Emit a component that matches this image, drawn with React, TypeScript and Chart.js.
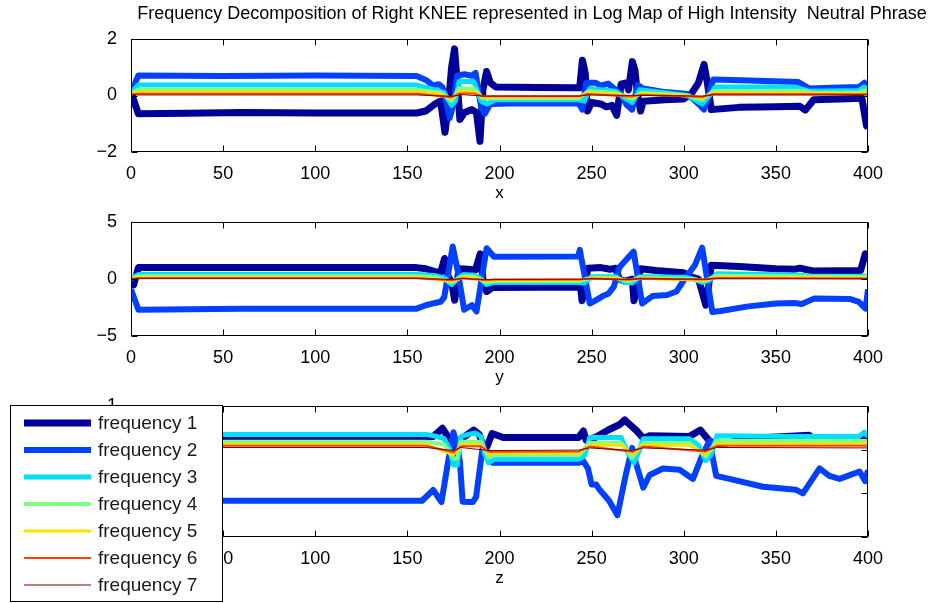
import { useEffect, useRef } from "react";
import { Chart, registerables } from "chart.js";

Chart.register(...registerables);

type Pt = [number, number];

const FONT = '"Liberation Sans", Arial, Helvetica, sans-serif';

const titleText =
  "Frequency Decomposition of Right KNEE represented in Log Map of High Intensity  Neutral Phrase";

const seriesLabels = [
  "frequency 1",
  "frequency 2",
  "frequency 3",
  "frequency 4",
  "frequency 5",
  "frequency 6",
  "frequency 7",
];
const seriesColors = ["#000098", "#0040ff", "#00dfff", "#80ff80", "#ffdf00", "#ff4000", "#800000"];
const seriesWidths = [7, 6, 5, 4, 3, 2, 1];

const xTickValues = [0, 50, 100, 150, 200, 250, 300, 350, 400];
const yTicksX = [-2, 0, 2];
const yTicksY = [-5, 0, 5];
const yTicksZ = [-2, -1, 0, 1];
const axisNames = ["x", "y", "z"];

// ---- x component ----
const xF1: Pt[] = [
  [0, 0.12], [4, -0.65], [30, -0.63], [60, -0.6], [100, -0.62], [155, -0.62], [160, -0.55],
  [165, -0.3], [168, -0.2], [170.4, -1.3], [172, -0.5], [174, 1.0], [175.6, 1.65], [177, 0.5],
  [178.5, -0.85], [181, -0.6], [185, -0.5], [187.5, -0.6], [189.4, -1.62], [191, 0.2], [193, 0.85],
  [195, 0.45], [198, 0.3], [220, 0.28], [243.5, 0.27], [245, 1.25], [246.5, 0.8], [247.8, -0.55],
  [250, -0.25], [255, -0.3], [258, -0.4], [261, -0.35], [263.6, -0.7], [266, 0.4], [268.7, 0.45],
  [270, 0.2], [272.1, 1.2], [273.5, 0.9], [274.8, 0.1], [276.6, -0.55], [278, -0.2], [290, -0.15],
  [300, -0.12], [304, 0.05], [308, 0.45], [311, 1.1], [312.8, 0.45], [315, -0.5], [330, -0.42],
  [350, -0.4], [363, -0.38], [366, -0.52], [370.5, -0.15], [385, -0.12], [396.7, -0.1],
  [399.2, -1.08], [400, -1.12],
];
const xF2: Pt[] = [
  [0, 0.1], [4, 0.71], [50, 0.69], [100, 0.71], [155, 0.69], [160, 0.55], [164, 0.35], [167, 0.4],
  [169, 0.3], [171, -0.2], [173, -0.8], [175, -0.3], [177, 0.7], [181, 0.75], [185, 0.7],
  [187, 0.8], [190, -0.4], [192, -0.65], [195, -0.3], [210, -0.27], [243, -0.28], [245, -0.5],
  [247, 0.45], [252, 0.45], [255, 0.35], [259, 0.42], [263, 0.2], [266, 0.05], [269, -0.33],
  [272, -0.5], [275, 0.37], [278, 0.25], [290, 0.12], [302, 0.05], [308, -0.3], [311, -0.5],
  [314, 0.1], [316, 0.57], [340, 0.52], [362, 0.48], [368, 0.25], [380, 0.27], [395, 0.3],
  [398, 0.45], [400, 0.25],
];
const xF3: Pt[] = [
  [0, 0.1], [4, 0.37], [155, 0.37], [165, 0.2], [170, 0.1], [174, -0.35], [176, -0.2], [178, 0.5],
  [186, 0.5], [190, -0.2], [193, -0.3], [198, -0.15], [243, -0.15], [246, -0.2], [249, 0.25],
  [263, 0.15], [268, -0.1], [272, -0.25], [276, 0.2], [290, 0.1], [302, 0.0], [310, -0.3],
  [314, 0.0], [317, 0.3], [360, 0.3], [368, 0.15], [395, 0.18], [398, 0.3], [400, 0.2],
];
const xF4: Pt[] = [
  [0, 0.08], [4, 0.2], [155, 0.2], [168, 0.1], [174, -0.2], [178, 0.25], [186, 0.25], [191, -0.1],
  [198, -0.1], [243, -0.1], [248, 0.15], [263, 0.1], [272, -0.12], [277, 0.1], [300, 0.02],
  [310, -0.15], [316, 0.15], [365, 0.17], [370, 0.1], [395, 0.1], [398, 0.18], [400, 0.12],
];
const xF5: Pt[] = [
  [0, 0.06], [4, 0.12], [155, 0.12], [168, 0.06], [174, -0.12], [178, 0.14], [186, 0.14],
  [191, -0.06], [243, -0.06], [248, 0.1], [263, 0.06], [272, -0.07], [277, 0.06], [300, 0.01],
  [310, -0.09], [316, 0.1], [400, 0.07],
];
const xF6: Pt[] = [
  [0, 0.04], [4, 0.06], [155, 0.06], [174, -0.06], [178, 0.07], [186, 0.07], [191, -0.03],
  [243, -0.03], [248, 0.05], [272, -0.04], [277, 0.03], [310, -0.05], [316, 0.05], [400, 0.04],
];
const xF7: Pt[] = [
  [0, 0.02], [155, 0.02], [174, -0.03], [180, 0.03], [191, -0.02], [243, -0.02], [248, 0.02],
  [310, -0.02], [316, 0.02], [400, 0.02],
];

// ---- y component ----
const yF1: Pt[] = [
  [0, -0.2], [1.5, -0.5], [4, 1.0], [60, 1.0], [155, 1.0], [160, 0.9], [165, 0.65], [168, 0.55],
  [170.2, 1.8], [172, 0.3], [174, -0.3], [175.7, -1.85], [178, 0.9], [183, 0.85], [187, 0.8],
  [189.5, 2.2], [191, 0.0], [193, -1.1], [196, -0.75], [244, -0.7], [244.8, -1.9], [248, 0.94],
  [255, 1.0], [260, 0.85], [263, 0.95], [265, 0.0], [268, -0.2], [272, 0.0], [273, -1.9],
  [276.5, 0.9], [285, 0.75], [300, 0.55], [304, 0.2], [308, 0.0], [312, -2.3], [315, 1.2],
  [330, 1.1], [350, 0.9], [360, 0.85], [363, 0.95], [370, 0.7], [396, 0.75], [398.5, 2.2],
  [400, 2.0],
];
const yF2: Pt[] = [
  [0, -0.9], [4, -2.7], [60, -2.6], [155, -2.6], [160, -2.3], [165, -2.1], [168, -2.0],
  [170, -1.6], [174.6, 2.85], [177, 1.0], [180.8, -2.7], [185, -2.3], [187.5, -2.85], [193, 2.7],
  [197, 1.95], [242.6, 1.97], [243.6, 2.55], [249, -2.15], [252, -1.9], [256, -1.5], [259, -1.3],
  [262, -0.7], [265, 1.0], [268.8, 1.7], [272.8, 2.4], [277.4, -2.15], [283, -1.5], [291, -1.4],
  [296, -1.1], [300.5, 0.0], [306, 1.2], [310, 2.75], [315.5, -2.9], [320, -2.8], [335, -2.4],
  [350, -2.15], [360, -2.1], [364, -2.2], [371, -1.7], [390, -1.75], [395, -2.0], [398.7, -2.6],
  [400, -0.9],
];
const yF3: Pt[] = [
  [0, 0.05], [4, 0.4], [155, 0.4], [165, 0.3], [170, 0.1], [174, -0.5], [177, 0.0], [180, 0.35],
  [186, 0.35], [190, 0.0], [193, -0.5], [197, -0.3], [243, -0.3], [246, -0.35], [250, 0.2],
  [263, 0.2], [268, -0.3], [272, -0.35], [276, 0.2], [300, 0.15], [305, 0.0], [310, -0.3],
  [314, -0.1], [318, 0.45], [360, 0.35], [370, 0.25], [400, 0.25],
];
const yF4: Pt[] = [
  [0, 0.03], [4, 0.25], [155, 0.25], [165, 0.18], [174, -0.3], [180, 0.22], [186, 0.22],
  [193, -0.3], [197, -0.18], [243, -0.18], [250, 0.12], [263, 0.12], [270, -0.2], [276, 0.12],
  [305, 0.0], [311, -0.18], [318, 0.28], [400, 0.18],
];
const yF5: Pt[] = [
  [0, 0.02], [4, 0.15], [155, 0.15], [174, -0.18], [180, 0.13], [186, 0.13], [193, -0.18],
  [197, -0.1], [243, -0.1], [250, 0.07], [263, 0.07], [270, -0.12], [276, 0.07], [311, -0.1],
  [318, 0.16], [400, 0.1],
];
const yF6: Pt[] = [
  [0, 0.01], [4, 0.08], [155, 0.08], [174, -0.1], [180, 0.07], [193, -0.1], [197, -0.05],
  [243, -0.05], [250, 0.04], [270, -0.06], [276, 0.04], [311, -0.05], [318, 0.08], [400, 0.05],
];
const yF7: Pt[] = [
  [0, 0.0], [4, 0.03], [155, 0.03], [174, -0.04], [180, 0.03], [193, -0.04], [243, -0.02],
  [250, 0.02], [270, -0.03], [276, 0.02], [311, -0.02], [318, 0.03], [400, 0.02],
];

// ---- z component ----
const zF1: Pt[] = [
  [0, 0.27], [155, 0.27], [164, 0.3], [169, 0.49], [172, 0.3], [174, -0.1], [176, -0.15],
  [178, 0.2], [181, 0.3], [186, 0.45], [189, 0.35], [191, 0.1], [193, 0.05], [196, 0.37],
  [202, 0.28], [243, 0.28], [245.5, 0.43], [247, 0.22], [252, 0.28], [259, 0.45], [265, 0.57],
  [268, 0.68], [270, 0.6], [274.5, 0.43], [278, 0.26], [281.5, 0.32], [303, 0.3], [309, 0.45],
  [314, 0.2], [318, 0.12], [340, 0.27], [368, 0.33], [372, 0.2], [383, 0.28], [396, 0.25],
  [398, 0.35], [400, 0.28],
];
const zF2: Pt[] = [
  [0, -1.17], [158, -1.17], [164, -0.92], [168.5, -1.2], [172, -0.3], [175, 0.4], [177, 0.1],
  [178.5, -0.27], [180, -1.19], [185.5, -1.2], [187.3, -1.08], [191, 0.1], [193, -0.1],
  [196, -0.3], [243, -0.3], [245.3, -0.25], [248, -0.43], [250, -0.8], [252.5, -0.8],
  [254, -0.9], [259.5, -1.17], [264, -1.5], [268.5, -0.58], [272, 0.04], [274, -0.3],
  [278, -0.87], [281.5, -0.58], [288.7, -0.43], [297.8, -0.46], [305, -0.67], [310.5, -0.08],
  [314, 0.2], [317.6, -0.6], [324.8, -0.67], [343, -0.85], [361, -0.92], [364.7, -1.0],
  [373.7, -0.43], [379, -0.6], [384.6, -0.67], [395.4, -0.5], [398.5, -0.72], [400, -0.47],
];
const zF3: Pt[] = [
  [0, 0.35], [160, 0.35], [166, 0.3], [170, 0.25], [173, 0.0], [175, -0.35], [177, -0.35],
  [179, 0.3], [183, 0.35], [187, 0.38], [190, 0.3], [192, -0.1], [194, -0.3], [197, -0.22],
  [243, -0.22], [246, -0.15], [249, 0.28], [266, 0.28], [270, -0.1], [273, -0.3], [276, 0.0],
  [278, 0.25], [303, 0.25], [308, 0.1], [312, -0.25], [315, -0.1], [318, 0.32], [360, 0.3],
  [395, 0.3], [398, 0.4], [400, 0.3],
];
const zF4: Pt[] = [
  [0, 0.18], [160, 0.18], [170, 0.12], [175, -0.2], [177, -0.2], [179, 0.18], [190, 0.18],
  [194, -0.18], [197, -0.13], [243, -0.13], [249, 0.16], [266, 0.16], [272, -0.18], [278, 0.15],
  [303, 0.15], [312, -0.15], [318, 0.2], [400, 0.2],
];
const zF5: Pt[] = [
  [0, 0.12], [160, 0.12], [175, -0.12], [179, 0.12], [190, 0.12], [194, -0.1], [197, -0.08],
  [243, -0.08], [249, 0.1], [266, 0.1], [272, -0.1], [278, 0.1], [303, 0.1], [312, -0.09],
  [318, 0.13], [400, 0.13],
];
const zF6: Pt[] = [
  [0, 0.09], [160, 0.09], [175, -0.06], [179, 0.08], [190, 0.08], [194, -0.05], [243, -0.04],
  [249, 0.07], [272, -0.05], [278, 0.07], [312, -0.04], [318, 0.09], [400, 0.09],
];
const zF7: Pt[] = [
  [0, 0.05], [160, 0.05], [175, -0.02], [179, 0.05], [194, -0.02], [243, -0.01], [249, 0.04],
  [272, -0.02], [278, 0.04], [312, -0.01], [318, 0.05], [400, 0.04],
];

const panelSeries = [
  [xF1, xF2, xF3, xF4, xF5, xF6, xF7],
  [yF1, yF2, yF3, yF4, yF5, yF6, yF7],
  [zF1, zF2, zF3, zF4, zF5, zF6, zF7],
];
const panelYTicks = [yTicksX, yTicksY, yTicksZ];

// layout of the figure (pixels)
const W = 932;
const H = 603;
const PLOT_LEFT = 131;
const PLOT_RIGHT = 868;
const panelBoxes = [
  { top: 39, bottom: 152 },
  { top: 222, bottom: 336 },
  { top: 406, bottom: 537 },
];
const XAXIS_H = 52;
const TICK_FONT = { family: FONT, size: 18 };

const fmtTick = (v: number) => (v < 0 ? "\u2212" + Math.abs(v) : String(v));

// full box around the axes with inward tick marks on all four sides
const boxAxes = {
  id: "boxAxes",
  afterDatasetsDraw(chart: any) {
    const { ctx, chartArea } = chart;
    const l = Math.round(chartArea.left) + 0.5;
    const r = Math.round(chartArea.right) - 0.5;
    const t = Math.round(chartArea.top) + 0.5;
    const b = Math.round(chartArea.bottom) - 0.5;
    const len = 6;
    ctx.save();
    ctx.strokeStyle = "#000";
    ctx.lineWidth = 1;
    ctx.beginPath();
    for (const tk of chart.scales.x.ticks) {
      const px = Math.round(chart.scales.x.getPixelForValue(tk.value)) + 0.5;
      ctx.moveTo(px, b);
      ctx.lineTo(px, b - len);
      ctx.moveTo(px, t);
      ctx.lineTo(px, t + len);
    }
    for (const tk of chart.scales.y.ticks) {
      const py = Math.round(chart.scales.y.getPixelForValue(tk.value)) + 0.5;
      ctx.moveTo(l, py);
      ctx.lineTo(l + len, py);
      ctx.moveTo(r, py);
      ctx.lineTo(r - len, py);
    }
    ctx.stroke();
    ctx.strokeRect(l, t, r - l, b - t);
    ctx.restore();
  },
};

// figure title above the first axes
const figTitle = {
  id: "figTitle",
  afterDraw(chart: any, _args: any, opts: any) {
    if (!opts || !opts.text) return;
    const { ctx } = chart;
    ctx.save();
    ctx.fillStyle = "#000";
    ctx.font = `18px ${FONT}`;
    ctx.textAlign = "center";
    ctx.textBaseline = "middle";
    ctx.fillText(opts.text, opts.x, opts.y);
    ctx.restore();
  },
};

// boxed legend drawn over the lower-left corner
const boxLegend = {
  id: "boxLegend",
  afterDraw(chart: any, _args: any, opts: any) {
    if (!opts || !opts.show) return;
    const { ctx } = chart;
    const x0 = 10.5;
    const y0 = 405.5;
    const w = 212;
    const h = 196;
    ctx.save();
    ctx.fillStyle = "#fff";
    ctx.fillRect(x0, y0, w, h);
    ctx.strokeStyle = "#000";
    ctx.lineWidth = 1;
    ctx.strokeRect(x0, y0, w, h);
    ctx.font = `19px ${FONT}`;
    ctx.textBaseline = "middle";
    ctx.textAlign = "left";
    chart.data.datasets.forEach((ds: any, i: number) => {
      const cy = 423 + i * 27;
      ctx.strokeStyle = ds.borderColor;
      ctx.lineWidth = ds.borderWidth;
      ctx.lineCap = "butt";
      ctx.beginPath();
      ctx.moveTo(24, cy);
      ctx.lineTo(91, cy);
      ctx.stroke();
      ctx.fillStyle = "#1a1a1a";
      ctx.fillText(ds.label, 98, cy + 1);
    });
    ctx.restore();
  },
};

function makeConfig(p: number): any {
  const box = panelBoxes[p];
  const yt = panelYTicks[p];
  return {
    type: "line",
    data: {
      datasets: panelSeries[p].map((pts, i) => ({
        label: seriesLabels[i],
        data: pts.map(([x, y]) => ({ x, y })),
        borderColor: seriesColors[i],
        backgroundColor: seriesColors[i],
        borderWidth: seriesWidths[i],
        pointRadius: 0,
        tension: 0,
        fill: false,
        borderJoinStyle: "round",
        borderCapStyle: "butt",
        order: seriesLabels.length - i,
      })),
    },
    options: {
      responsive: false,
      animation: false,
      events: [],
      layout: {
        padding: {
          left: 0,
          right: W - PLOT_RIGHT,
          top: box.top,
          bottom: H - box.bottom - XAXIS_H,
        },
      },
      plugins: {
        legend: { display: false },
        tooltip: { enabled: false },
        title: { display: false },
        figTitle: p === 0 ? { text: titleText, x: 532, y: 14 } : {},
        boxLegend: { show: p === 2 },
      },
      scales: {
        x: {
          type: "linear",
          min: 0,
          max: 400,
          afterBuildTicks: (s: any) => {
            s.ticks = xTickValues.map((v) => ({ value: v }));
          },
          afterFit: (s: any) => {
            s.height = XAXIS_H;
          },
          grid: { display: false },
          border: { display: false },
          ticks: {
            font: TICK_FONT,
            color: "#000",
            padding: 3,
            maxRotation: 0,
            autoSkip: false,
            callback: (v: number) => fmtTick(v),
          },
          title: {
            display: true,
            text: axisNames[p],
            font: { family: FONT, size: 17 },
            color: "#000",
            padding: { top: 0, bottom: 0 },
          },
        },
        y: {
          type: "linear",
          min: yt[0],
          max: yt[yt.length - 1],
          afterBuildTicks: (s: any) => {
            s.ticks = yt.map((v) => ({ value: v }));
          },
          afterFit: (s: any) => {
            s.width = PLOT_LEFT;
          },
          grid: { display: false },
          border: { display: false },
          ticks: {
            font: TICK_FONT,
            color: "#000",
            padding: 6,
            autoSkip: false,
            callback: (v: number) => fmtTick(v),
          },
        },
      },
    },
    plugins: [boxAxes, figTitle, boxLegend],
  };
}

export default function App() {
  const c0 = useRef<HTMLCanvasElement>(null);
  const c1 = useRef<HTMLCanvasElement>(null);
  const c2 = useRef<HTMLCanvasElement>(null);

  useEffect(() => {
    const canvases = [c0.current, c1.current, c2.current];
    const charts = canvases.map((cv, i) => new Chart(cv as HTMLCanvasElement, makeConfig(i)));
    return () => charts.forEach((c) => c.destroy());
  }, []);

  const canvasStyle: any = { position: "absolute", left: 0, top: 0 };
  return (
    <div style={{ position: "absolute", left: 0, top: 0, width: W, height: H, background: "#fff" }}>
      <canvas ref={c0} width={W} height={H} style={canvasStyle} />
      <canvas ref={c1} width={W} height={H} style={canvasStyle} />
      <canvas ref={c2} width={W} height={H} style={canvasStyle} />
    </div>
  );
}
